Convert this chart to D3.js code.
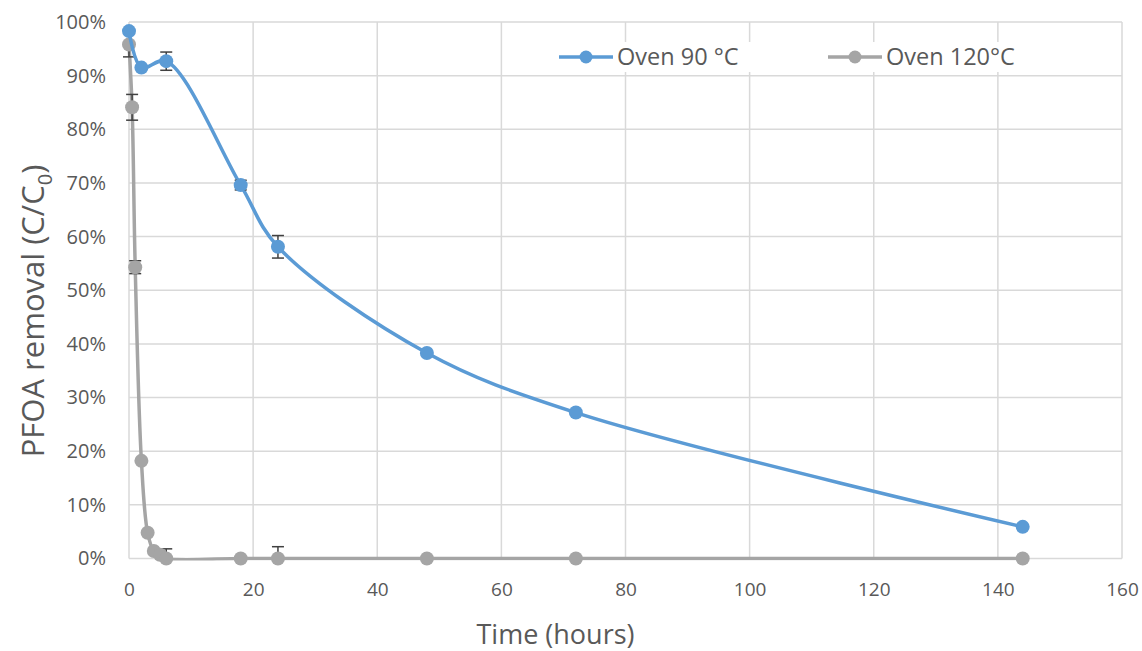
<!DOCTYPE html>
<html>
<head>
<meta charset="utf-8">
<script src="https://cdn.jsdelivr.net/npm/d3@7"></script>
<style>
  body { margin: 0; background: #fff; }
  svg text { font-family: "Open Sans", sans-serif; fill: #595959; }
</style>
</head>
<body>
<div id="chart"></div>
<script>
// time points (hours) and C/C0 values in percent
var time90 = [0, 2, 6, 18, 24, 48, 72, 144];
var oven90 = [98.3, 91.5, 92.7, 69.6, 58.1, 38.3, 27.2, 5.9];
var err90 = [0, 0, 1.7, 0.9, 2.1, 0, 0, 0];

var time120 = [0, 0.5, 1, 2, 3, 4, 5, 6, 18, 24, 48, 72, 144];
var oven120 = [95.8, 84.1, 54.3, 18.2, 4.8, 1.4, 0.7, 0, 0, 0, 0, 0, 0];
var err120 = [2.3, 2.4, 1.2, 0, 0, 0, 0, 1.8, 0, 2.2, 0, 0, 0];

var xTicks = [0, 20, 40, 60, 80, 100, 120, 140, 160];
var yTicks = [0, 10, 20, 30, 40, 50, 60, 70, 80, 90, 100];

var seriesNames = ["Oven 90 °C", "Oven 120°C"];
var colors = ["#5b9bd5", "#a5a5a5"];

var width = 1142, height = 651;
var margin = {top: 22, right: 20, bottom: 92, left: 129};

var svg = d3.select("#chart").append("svg")
    .attr("width", width)
    .attr("height", height);

var x = d3.scaleLinear().domain([0, 160]).range([margin.left, 1122]);
var y = d3.scaleLinear().domain([0, 100]).range([558.5, margin.top]);

// clip so smoothed lines never dip under the 0% line
svg.append("clipPath").attr("id", "plot")
    .append("rect")
    .attr("x", 0).attr("y", 0)
    .attr("width", width).attr("height", y(0) + 2);

// gridlines
svg.append("g").selectAll("line.v")
    .data(xTicks)
    .join("line")
    .attr("x1", d => x(d)).attr("x2", d => x(d))
    .attr("y1", y(100)).attr("y2", y(0))
    .attr("stroke", "#d9d9d9").attr("stroke-width", 1.5);

svg.append("g").selectAll("line.h")
    .data(yTicks)
    .join("line")
    .attr("x1", x(0)).attr("x2", x(160))
    .attr("y1", d => y(d)).attr("y2", d => y(d))
    .attr("stroke", "#d9d9d9").attr("stroke-width", 1.5);

// axes (labels only, Excel style)
var xAxis = d3.axisBottom(x).tickValues(xTicks).tickSize(0).tickPadding(24);
svg.append("g")
    .attr("transform", "translate(0," + y(0) + ")")
    .call(xAxis)
    .call(g => g.select(".domain").remove())
    .selectAll("text")
    .style("font-size", "19px")
    .attr("fill", "#595959");

var yAxis = d3.axisLeft(y).tickValues(yTicks).tickSize(0).tickPadding(23)
    .tickFormat(d => d + "%");
svg.append("g")
    .attr("transform", "translate(" + x(0) + ",0)")
    .call(yAxis)
    .call(g => g.select(".domain").remove())
    .selectAll("text")
    .style("font-size", "20px")
    .attr("fill", "#595959");

// axis titles
svg.append("text")
    .attr("x", (x(0) + x(160)) / 2 - 70)
    .attr("y", 644)
    .attr("text-anchor", "middle")
    .style("font-size", "27px")
    .text("Time (hours)");

var yTitle = svg.append("text")
    .attr("transform", "translate(44,311) rotate(-90)")
    .attr("text-anchor", "middle")
    .style("font-size", "31px");
yTitle.append("tspan").text("PFOA removal (C/C");
yTitle.append("tspan").attr("dy", 8).style("font-size", "20px").text("0");
yTitle.append("tspan").attr("dy", -8).text(")");

var series = [
    {name: seriesNames[0], color: colors[0], pts: time90.map((t, i) => ({t: t, v: oven90[i], e: err90[i]}))},
    {name: seriesNames[1], color: colors[1], pts: time120.map((t, i) => ({t: t, v: oven120[i], e: err120[i]}))}
];

var line = d3.line()
    .x(d => x(d.t))
    .y(d => y(d.v))
    .curve(d3.curveCatmullRom.alpha(0.5));

// draw 120 first so 90 sits on top
series.slice().reverse().forEach(function(s) {
    var g = svg.append("g");

    g.append("path")
        .datum(s.pts)
        .attr("fill", "none")
        .attr("stroke", s.color)
        .attr("stroke-width", 3.5)
        .attr("clip-path", "url(#plot)")
        .attr("d", line);

    // error bars, cut at the 0% line
    var bars = g.selectAll("g.err")
        .data(s.pts.filter(d => d.e > 0))
        .join("g")
        .attr("stroke", "#404040")
        .attr("stroke-width", 1.5);
    bars.append("line")
        .attr("x1", d => x(d.t)).attr("x2", d => x(d.t))
        .attr("y1", d => y(d.v + d.e)).attr("y2", d => y(Math.max(0, d.v - d.e)));
    bars.append("line")
        .attr("x1", d => x(d.t) - 6).attr("x2", d => x(d.t) + 6)
        .attr("y1", d => y(d.v + d.e)).attr("y2", d => y(d.v + d.e));
    bars.filter(d => d.v - d.e >= 0).append("line")
        .attr("x1", d => x(d.t) - 6).attr("x2", d => x(d.t) + 6)
        .attr("y1", d => y(d.v - d.e)).attr("y2", d => y(d.v - d.e));

    g.selectAll("circle")
        .data(s.pts)
        .join("circle")
        .attr("cx", d => x(d.t))
        .attr("cy", d => y(d.v))
        .attr("r", 7)
        .attr("fill", s.color);
});

// legend
var legendX = [559, 828];
var legend = svg.append("g").selectAll("g")
    .data(series)
    .join("g")
    .attr("transform", (d, i) => "translate(" + legendX[i] + ",57)");
legend.append("rect")
    .attr("x", 0).attr("y", -15).attr("width", 200).attr("height", 30)
    .attr("fill", "#fff");
legend.append("line")
    .attr("x1", 0).attr("x2", 54)
    .attr("stroke", d => d.color).attr("stroke-width", 3.5);
legend.append("circle")
    .attr("cx", 27).attr("r", 6.5)
    .attr("fill", d => d.color);
legend.append("text")
    .attr("x", 58).attr("dy", "0.35em")
    .style("font-size", "23.5px")
    .text(d => d.name);
</script>
</body>
</html>
